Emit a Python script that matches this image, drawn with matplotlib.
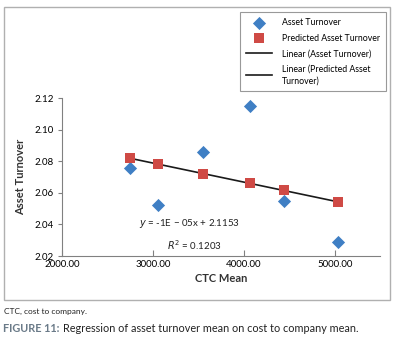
import matplotlib
matplotlib.use("Agg")
import matplotlib.pyplot as plt
from matplotlib.patches import Rectangle
import numpy as np

plt.rcParams['font.family'] = ['Lato', 'DejaVu Sans']

ctc_mean = [2745, 3050, 3555, 4065, 4435, 5030]
asset_turnover = [2.076, 2.052, 2.086, 2.115, 2.055, 2.029]
predicted_turnover = [2.082, 2.078, 2.072, 2.066, 2.062, 2.054]
x_ticks = [2000, 3000, 4000, 5000]
y_ticks = [2.02, 2.04, 2.06, 2.08, 2.10, 2.12]

fig = plt.figure(figsize=(3.93, 3.45), dpi=100)
# outer chart frame
fig.patches.append(Rectangle((4/393, 1-300/345), 386/393, 293/345, transform=fig.transFigure,
                             fill=False, edgecolor='#b0b0b0', linewidth=1.0))

ax = fig.add_axes([62/393, 1-256/345, 318/393, 158/345])
ax.set_xlim(2000, 5495)
ax.set_ylim(2.02, 2.12)
for s in ['top', 'right']:
    ax.spines[s].set_visible(False)
for s in ['left', 'bottom']:
    ax.spines[s].set_color('#808080')
    ax.spines[s].set_linewidth(0.8)

ax.scatter(ctc_mean, asset_turnover, marker='D', s=45, color='#3f7fc4', zorder=3,
           label='Asset Turnover', linewidths=0)
ax.scatter(ctc_mean, predicted_turnover, marker='s', s=55, color='#cf4a45', zorder=3,
           label='Predicted Asset Turnover', linewidths=0)

coef = np.polyfit(ctc_mean, predicted_turnover, 1)
xs = np.array([min(ctc_mean), max(ctc_mean)])
ax.plot(xs, np.polyval(coef, xs), color='#1a1a1a', lw=1.2, zorder=2, label='Linear (Asset Turnover)')
ax.plot([], [], color='#1a1a1a', lw=1.2, label='Linear (Predicted Asset\nTurnover)')

ax.set_xticks(x_ticks)
ax.set_xticklabels([f'{v:.2f}' for v in x_ticks], fontsize=7)
ax.set_yticks(y_ticks)
ax.set_yticklabels([f'{v:.2f}' for v in y_ticks], fontsize=7)
ax.tick_params(axis='x', direction='in', length=4, color='#808080', pad=3)
ax.tick_params(axis='y', direction='out', length=3, color='#808080', pad=3)
ax.set_xlabel('CTC Mean', fontsize=8, fontweight='bold', color='#333333', labelpad=3)
ax.set_ylabel('Asset Turnover', fontsize=8, fontweight='bold', color='#333333', labelpad=6)

ax.text(3400, 2.0405, r'$\mathit{y}$ = -1E − 05x + 2.1153', fontsize=7, ha='center', va='center', color='#222222')
ax.text(3460, 2.0272, r'$\mathit{R}^2$ = 0.1203', fontsize=7, ha='center', va='center', color='#222222')

leg = fig.legend(loc='upper right', bbox_to_anchor=(386/393, 1-12/345), fontsize=6.3,
                 frameon=True, fancybox=False, edgecolor='#808080', handlelength=3.0,
                 handletextpad=1.1, borderpad=0.7, labelspacing=0.75, borderaxespad=0)
leg.get_frame().set_linewidth(0.8)
for t in leg.get_texts():
    t.set_linespacing(1.35)

fig.text(4/393, 1-311/345, 'CTC, cost to company.', fontsize=6, va='center', color='#222222')
fig.text(3/393, 1-328/345, 'FIGURE 11:', fontsize=7.8, fontweight='bold', va='center', color='#6a7a88')
fig.text(63/393, 1-328/345, 'Regression of asset turnover mean on cost to company mean.', fontsize=7.8,
         va='center', color='#222222')

fig.savefig('out.png', dpi=100)
